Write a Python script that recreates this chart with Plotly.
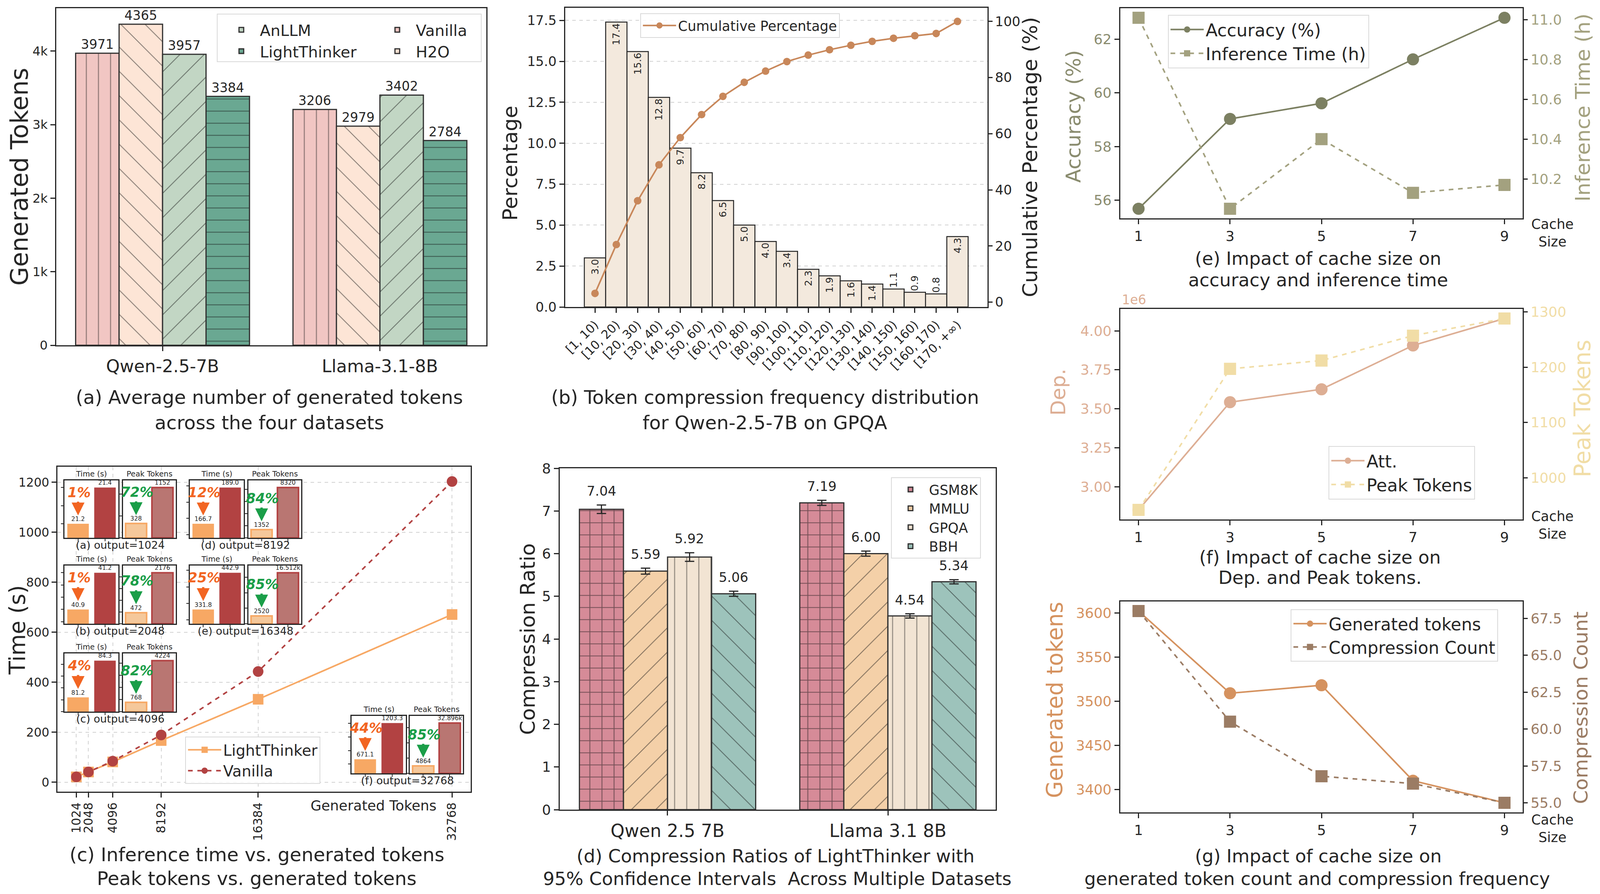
import plotly.graph_objects as go

# positions below are measured in reference pixels (4309 x 2289);
# the browser viewport is narrower (4096 px), so x positions are rescaled
W, H = 4309, 2289
VIEW_W = 4096
KX = VIEW_W / W
FIG_W, FIG_H = VIEW_W - 16, H - 16
FONT = "DejaVu Sans"
INK = "#262626"
GRID = "#D2D2D2"

# ---------------- data ----------------
# (a) average generated tokens
models_a = ["Qwen-2.5-7B", "Llama-3.1-8B"]
tokens_vanilla = [3971, 3206]
tokens_h2o = [4365, 2979]
tokens_anllm = [3957, 3402]
tokens_lightthinker = [3384, 2784]

# (b) token compression frequency on GPQA
bins_b = ["[1, 10)", "[10, 20)", "[20, 30)", "[30, 40)", "[40, 50)", "[50, 60)",
          "[60, 70)", "[70, 80)", "[80, 90)", "[90, 100)", "[100, 110)", "[110, 120)",
          "[120, 130)", "[130, 140)", "[140, 150)", "[150, 160)", "[160, 170)", "[170, +∞)"]
freq_pct_b = [3.0, 17.4, 15.6, 12.8, 9.7, 8.2, 6.5, 5.0, 4.0, 3.4, 2.3, 1.9, 1.6, 1.4, 1.1, 0.9, 0.8, 4.3]
cum_pct_b = [3.1, 20.5, 36.1, 48.9, 58.6, 66.8, 73.3, 78.3, 82.3, 85.7, 88.0, 89.9, 91.5, 92.9,
             94.0, 94.9, 95.7, 100.0]

# (c) inference time / peak tokens vs generated tokens
output_tokens_c = [1024, 2048, 4096, 8192, 16384, 32768]
time_lightthinker_c = [21.2, 40.9, 81.2, 166.7, 331.8, 671.1]
time_vanilla_c = [21.4, 41.2, 84.3, 189.0, 442.9, 1203.3]
peak_lightthinker_c = [328, 472, 768, 1352, 2520, 4864]
peak_vanilla_c = [1152, 2176, 4224, 8320, 16512, 32896]
inset_tags_c = ["(a)", "(b)", "(c)", "(d)", "(e)", "(f)"]
inset_outputs_c = [1024, 2048, 4096, 8192, 16348, 32768]
methods_c = ["LightThinker", "Vanilla"]

# (d) compression ratios with 95% CI
models_d = ["Qwen 2.5 7B", "Llama 3.1 8B"]
ratio_gsm8k = [7.04, 7.19]
ratio_mmlu = [5.59, 6.00]
ratio_gpqa = [5.92, 4.54]
ratio_bbh = [5.06, 5.34]
ci_gsm8k = [0.10, 0.06]
ci_mmlu = [0.07, 0.06]
ci_gpqa = [0.10, 0.05]
ci_bbh = [0.06, 0.05]

# (e)(f)(g) cache size ablation
cache_size = [1, 3, 5, 7, 9]
accuracy_e = [55.68, 59.03, 59.61, 61.25, 62.80]
inference_hours_e = [11.01, 10.05, 10.40, 10.13, 10.17]
att_dep_f = [2.851e6, 3.542e6, 3.625e6, 3.906e6, 4.079e6]
peak_tokens_f = [942, 1197, 1212, 1257, 1288]
generated_tokens_g = [3602, 3509, 3518, 3410, 3385]
compression_count_g = [68.0, 60.5, 56.8, 56.3, 55.0]


# ---------------- helpers ----------------
def z(v):
    return v * 0.97


def fx(x):
    return (x * KX - 8) / FIG_W


def fy(y):
    return 1 - (y - 8) / FIG_H


def xd(x0, x1):
    return [fx(x0), fx(x1)]


def yd(y0, y1):
    return [fy(y1), fy(y0)]


def autoscale(values, from_zero=False):
    lo = 0 if from_zero else min(values)
    hi = max(values)
    m = 0.05 * (hi - lo)
    return [lo if from_zero else lo - m, hi + m]


def cat_range(n, group=0.8):
    m = 0.05 * (n - 1 + group)
    return [-group / 2 - m, n - 1 + group / 2 + m]


def tick_style(size, color):
    return dict(ticks="outside", ticklen=12, tickwidth=2.5, tickcolor=INK,
                showgrid=False, zeroline=False, automargin=False,
                tickfont=dict(family=FONT, size=z(size), color=color))


def framed(size=36, color=INK, **kw):
    d = dict(showline=True, linecolor=INK, linewidth=3, mirror=True)
    d.update(tick_style(size, color))
    d.update(kw)
    return d


def twin(over, anchor, size=36, color=INK, **kw):
    d = dict(overlaying=over, anchor=anchor, side="right", showline=False)
    d.update(tick_style(size, color))
    d.update(kw)
    return d


def dashed_grid():
    return dict(showgrid=True, gridcolor=GRID, gridwidth=2, griddash="dash")


def hatch(shape, size, line_px=2.2):
    # solidity chosen so hatch lines come out about line_px wide
    if shape == "+":
        sol = 1 - (1 - line_px / size) ** 2
    else:
        sol = line_px / size
    return dict(shape=shape, size=size, solidity=sol, fgcolor="#111111")


notes = []


def text_at(text, x, y, size=48, color=INK, angle=0, **kw):
    d = dict(text=text, x=fx(x), y=fy(y), xref="paper", yref="paper",
             showarrow=False, textangle=angle,
             font=dict(family=FONT, size=z(size), color=color),
             xanchor="center", yanchor="middle")
    d.update(kw)
    notes.append(d)


def legend_at(x, y, size, **kw):
    d = dict(x=fx(x), y=fy(y), xanchor="left", yanchor="top",
             bgcolor="rgba(255,255,255,0.85)", bordercolor="#D9D9D9", borderwidth=2,
             font=dict(family=FONT, size=z(size), color=INK), itemwidth=85,
             tracegroupgap=0)
    d.update(kw)
    return d


fig = go.Figure()
lay = {}
shapes = []

# ---------------- (a) ----------------
bars_a = [
    ("Vanilla", tokens_vanilla, "#F1C6C3", "|", 31, "legend2"),
    ("H2O", tokens_h2o, "#FDE5D6", "\\", 44, "legend2"),
    ("AnLLM", tokens_anllm, "#C2D6C4", "/", 44, "legend"),
    ("LightThinker", tokens_lightthinker, "#6AA892", "-", 31, "legend"),
]
for name, vals, color, shape, size, leg in bars_a:
    fig.add_trace(go.Bar(
        x=models_a, y=vals, name=name, legend=leg, xaxis="x", yaxis="y",
        marker=dict(color=color, line=dict(color="#303030", width=3),
                    pattern=hatch(shape, size)),
        text=[str(v) for v in vals], textposition="outside", constraintext="none",
        textfont=dict(family=FONT, size=z(34), color=INK), cliponaxis=False))

lay["xaxis"] = framed(46, domain=xd(151, 1310), anchor="y", type="category",
                      range=cat_range(len(models_a)))
lay["yaxis"] = framed(33, domain=yd(21, 884), anchor="x",
                      range=autoscale(tokens_h2o + tokens_vanilla, True),
                      dtick=1000, tickformat="~s")
shapes.append(dict(type="rect", xref="paper", yref="paper", x0=fx(585), x1=fx(1296),
                   y0=fy(158), y1=fy(36), line=dict(color="#D9D9D9", width=2),
                   fillcolor="rgba(255,255,255,0.85)", layer="above"))
text_at("Generated Tokens", 52, 452, 64, angle=-90)
text_at("(a) Average number of generated tokens", 725, 1017, 50)
text_at("across the four datasets", 725, 1082, 50)

# ---------------- (b) ----------------
fig.add_trace(go.Bar(
    x=bins_b, y=freq_pct_b, width=1, showlegend=False, xaxis="x2", yaxis="y2",
    marker=dict(color="#F3E9DD", line=dict(color=INK, width=2.5)),
    text=[f"{v:.1f}" for v in freq_pct_b], textangle=-90,
    textposition=["inside" if v >= 1.2 else "outside" for v in freq_pct_b],
    insidetextanchor="end", constraintext="none", cliponaxis=False,
    textfont=dict(family=FONT, size=z(26), color=INK)))
fig.add_trace(go.Scatter(
    x=bins_b, y=cum_pct_b, name="Cumulative Percentage", legend="legend3",
    xaxis="x2", yaxis="y3", mode="lines+markers",
    line=dict(color="#C8875A", width=4), marker=dict(size=z(20), color="#C8875A")))

lay["xaxis2"] = framed(32, domain=xd(1522, 2659), anchor="y2", type="category",
                       range=cat_range(len(bins_b), 1.0), tickangle=-45)
lay["yaxis2"] = framed(35, domain=yd(20, 786), anchor="x2",
                       range=autoscale(freq_pct_b, True), dtick=2.5, tickformat=".1f",
                       **dashed_grid())
lay["yaxis3"] = twin("y2", "x2", 35, range=autoscale(cum_pct_b), dtick=20)
text_at("Percentage", 1373, 418, 54, angle=-90)
text_at("Cumulative Percentage (%)", 2774, 402, 54, angle=-90)
text_at("(b) Token compression frequency distribution", 2060, 1017, 50)
text_at("for Qwen-2.5-7B on GPQA", 2060, 1082, 50)

# ---------------- (c) ----------------
fig.add_trace(go.Scatter(
    x=output_tokens_c, y=time_lightthinker_c, name="LightThinker", legend="legend4",
    xaxis="x3", yaxis="y4", mode="lines+markers",
    line=dict(color="#F7A864", width=4),
    marker=dict(symbol="square", size=z(28), color="#F7A864")))
fig.add_trace(go.Scatter(
    x=output_tokens_c, y=time_vanilla_c, name="Vanilla", legend="legend4",
    xaxis="x3", yaxis="y4", mode="lines+markers",
    line=dict(color="#B24242", width=4, dash="dash"),
    marker=dict(symbol="circle", size=z(28), color="#B24242")))

lay["xaxis3"] = framed(32, domain=xd(155, 1268), anchor="y4",
                       range=autoscale(output_tokens_c), tickvals=output_tokens_c,
                       ticktext=[str(v) for v in output_tokens_c], tickangle=-90,
                       **dashed_grid())
lay["yaxis4"] = framed(32, domain=yd(1195, 2027), anchor="x3",
                       range=autoscale(time_lightthinker_c + time_vanilla_c), dtick=200,
                       **dashed_grid())
text_at("Time (s)", 46, 1613, 58, angle=-90)
text_at("Generated Tokens", 1006, 2062, 37)
text_at("(c) Inference time vs. generated tokens", 692, 2188, 50)
text_at("Peak tokens vs. generated tokens", 692, 2249, 50)

# insets of (c)
inset_cols_px = [(174, 319, 331, 473), (511, 656, 669, 811), (947, 1093, 1104, 1247)]
inset_rows_px = [(1230, 1377), (1448, 1597), (1673, 1822), (1833, 1980)]
inset_slot = [(0, 0), (0, 1), (0, 2), (1, 0), (1, 1), (2, 3)]
LOW, HIGH = 0.245, 0.876
ORANGE_TXT, GREEN_TXT = "#F26522", "#1A9E48"

for k in range(6):
    c, r = inset_slot[k]
    tx0, tx1, px0, px1 = inset_cols_px[c]
    y0, y1 = inset_rows_px[r]
    lt_t, va_t = time_lightthinker_c[k], time_vanilla_c[k]
    lt_p, va_p = peak_lightthinker_c[k], peak_vanilla_c[k]
    span = (va_t - lt_t) / (HIGH - LOW)
    t_lo = lt_t - LOW * span
    panels = [
        (8 + 2 * k, 12 + 2 * k, tx0, tx1, [t_lo, t_lo + span], [lt_t, va_t],
         ["#F7A864", "#B24242"], ["#F7A864", "#B24242"], 0, "%{y:.1f}",
         "Time (s)", ORANGE_TXT, LOW),
        (9 + 2 * k, 13 + 2 * k, px0, px1, [0, va_p / HIGH], [lt_p, va_p],
         ["#F5C89B", "#B97672"], ["#F7A864", "#B24242"], 4, "%{y}",
         "Peak Tokens", GREEN_TXT, lt_p / va_p * HIGH),
    ]
    for xn, yn, x0, x1, rng, vals, fills, edges, ew, fmt, title, pcol, lt_frac in panels:
        small = dict(showline=True, mirror=True, linecolor=INK, linewidth=3,
                     ticks="outside", ticklen=6, tickwidth=2, tickcolor=INK,
                     showticklabels=False, showgrid=False, zeroline=False,
                     automargin=False)
        lay[f"xaxis{xn}"] = dict(domain=xd(x0, x1), anchor=f"y{yn}", type="category",
                                 range=[-0.5, 1.5], **small)
        lay[f"yaxis{yn}"] = dict(domain=yd(y0, y1), anchor=f"x{xn}", range=rng,
                                 nticks=6, **small)
        fig.add_trace(go.Bar(
            x=methods_c, y=vals, showlegend=False, xaxis=f"x{xn}", yaxis=f"y{yn}",
            marker=dict(color=fills, line=dict(color=edges, width=ew)),
            texttemplate=fmt, textposition="outside", constraintext="none",
            textfont=dict(family=FONT, size=z(16), color=INK), cliponaxis=False))
        lo, hi = rng
        head = lt_frac + 0.145
        tail = head + 0.25
        label_y = tail + 0.15
        pct = round(100 * (1 - vals[0] / vals[1]))
        notes.append(dict(text=f"{pct}%", x=0.04, y=lo + label_y * (hi - lo),
                          xref=f"x{xn}", yref=f"y{yn}", showarrow=False,
                          xanchor="center", yanchor="middle",
                          font=dict(family=FONT, size=z(36), color=pcol,
                                    weight="bold", style="italic")))
        notes.append(dict(text="", x=0, y=lo + head * (hi - lo), ax=0,
                          ay=lo + tail * (hi - lo), xref=f"x{xn}", yref=f"y{yn}",
                          axref=f"x{xn}", ayref=f"y{yn}", showarrow=True,
                          arrowhead=2, arrowsize=1.1, arrowwidth=6, arrowcolor=pcol))
        text_at(title, (x0 + x1) / 2, y0 - 3, 20, yanchor="bottom")
    text_at(f"{inset_tags_c[k]} output={inset_outputs_c[k]}", (tx0 + px1) / 2, y1 + 1, 28,
            yanchor="top")

# ---------------- (d) ----------------
bars_d = [
    ("GSM8K", ratio_gsm8k, ci_gsm8k, "#D68B98", "+", 31),
    ("MMLU", ratio_mmlu, ci_mmlu, "#F4D0A8", "/", 44),
    ("GPQA", ratio_gpqa, ci_gpqa, "#F2E4D3", "|", 31),
    ("BBH", ratio_bbh, ci_bbh, "#9DC3BB", "\\", 44),
]
for i, (name, vals, errs, color, shape, size) in enumerate(bars_d):
    fig.add_trace(go.Bar(
        x=models_d, y=vals, name=name, legend="legend5", xaxis="x4", yaxis="y5",
        marker=dict(color=color, line=dict(color="#303030", width=3),
                    pattern=hatch(shape, size)),
        error_y=dict(type="data", array=errs, color=INK, thickness=3, width=12)))
    for j, (v, e) in enumerate(zip(vals, errs)):
        notes.append(dict(text=f"{v:.2f}", x=j + (i - 1.5) * 0.2, y=v + e,
                          xref="x4", yref="y5", showarrow=False, yanchor="bottom",
                          yshift=14, font=dict(family=FONT, size=z(35), color=INK)))

lay["xaxis4"] = framed(47, domain=xd(1507, 2682), anchor="y5", type="category",
                       range=cat_range(len(models_d)))
lay["yaxis5"] = framed(37, domain=yd(1199, 2073), anchor="x4", range=[0, 8], dtick=1)
text_at("Compression Ratio", 1420, 1636, 54, angle=-90)
text_at("(d) Compression Ratios of LightThinker with", 2089, 2192, 48)
text_at("95% Confidence Intervals\u00a0 Across Multiple Datasets", 2094, 2250, 48)

# ---------------- (e)(f)(g) ----------------
cache_panels = [
    # xaxis id, left y id, right y id, box rows, cache label row, left, right, legend
    (5, 6, 7, (21, 559), 596, ("Accuracy (%)", accuracy_e, "#7C8062", "#8A8C6F"),
     ("Inference Time (h)", inference_hours_e, "#A3A17F", "#A3A17F"), "legend6"),
    (6, 8, 9, (791, 1330), 1344, ("Att.", att_dep_f, "#DDAE94", "#DDAE94"),
     ("Peak Tokens", peak_tokens_f, "#F1DDA6", "#F1DDA6"), "legend7"),
    (7, 10, 11, (1540, 2080), 2121,
     ("Generated tokens", generated_tokens_g, "#D5925F", "#D5925F"),
     ("Compression Count", compression_count_g, "#9B7C64", "#9B7C64"), "legend8"),
]
for xn, yl, yr, (b0, b1), cache_y, left, right, leg in cache_panels:
    lname, lvals, lcol, ltxt = left
    rname, rvals, rcol, rtxt = right
    fig.add_trace(go.Scatter(
        x=cache_size, y=lvals, name=lname, legend=leg, xaxis=f"x{xn}", yaxis=f"y{yl}",
        mode="lines+markers", line=dict(color=lcol, width=4),
        marker=dict(symbol="circle", size=z(32), color=lcol)))
    fig.add_trace(go.Scatter(
        x=cache_size, y=rvals, name=rname, legend=leg, xaxis=f"x{xn}", yaxis=f"y{yr}",
        mode="lines+markers", line=dict(color=rcol, width=4, dash="dash"),
        marker=dict(symbol="square", size=z(32), color=rcol)))
    lay[f"xaxis{xn}"] = framed(37, domain=xd(3017, 4101), anchor=f"y{yl}",
                               range=autoscale(cache_size), tickvals=cache_size)
    lay[f"yaxis{yl}"] = framed(37, ltxt, domain=yd(b0, b1), anchor=f"x{xn}",
                               range=autoscale(lvals))
    lay[f"yaxis{yr}"] = twin(f"y{yl}", f"x{xn}", 37, rtxt, range=autoscale(rvals))
    text_at("Cache<br>Size", 4181, cache_y, 36)

lay["yaxis6"].update(dtick=2)
lay["yaxis7"].update(dtick=0.2, tick0=0, tickformat=".1f")
dep_ticks = [3.0e6 + 0.25e6 * i for i in range(5)]
lay["yaxis8"].update(tickvals=dep_ticks, ticktext=[f"{v / 1e6:.2f}" for v in dep_ticks])
lay["yaxis9"].update(dtick=100)
lay["yaxis10"].update(dtick=50)
lay["yaxis11"].update(dtick=2.5, tick0=0, tickformat=".1f")

text_at("Accuracy (%)", 2891, 298, 53, "#8A8C6F", -90)
text_at("Inference Time (h)", 4262, 275, 54, "#A3A17F", -90)
text_at("(e) Impact of cache size on", 3550, 662, 48)
text_at("accuracy and inference time", 3550, 717, 48)

text_at("1e6", 3054, 767, 34, "#DDAE94")
text_at("Dep.", 2850, 1004, 53, "#DDAE94", -90)
text_at("Peak Tokens", 4262, 1046, 60, "#F1DDA6", -90)
text_at("(f) Impact of cache size on", 3555, 1427, 48)
text_at("Dep. and Peak tokens.", 3555, 1479, 48)

text_at("Generated tokens", 2840, 1792, 58, "#D5925F", -90)
text_at("Compression Count", 4256, 1812, 52, "#9B7C64", -90)
text_at("(g) Impact of cache size on", 3550, 2192, 48)
text_at("generated token count and compression frequency", 3547, 2250, 48)

# ---------------- layout ----------------
fig.update_layout(
    width=FIG_W, height=FIG_H, autosize=False,
    margin=dict(l=0, r=0, t=0, b=0),
    paper_bgcolor="white", plot_bgcolor="white",
    font=dict(family=FONT, color=INK),
    barmode="group", bargap=0.2, bargroupgap=0,
    annotations=notes, shapes=shapes,
    legend=legend_at(600, 44, 41, bgcolor="rgba(0,0,0,0)", borderwidth=0),
    legend2=legend_at(1020, 44, 41, bgcolor="rgba(0,0,0,0)", borderwidth=0),
    legend3=legend_at(1724, 34, 36),
    legend4=legend_at(499, 1886, 40),
    legend5=legend_at(2400, 1222, 36),
    legend6=legend_at(3145, 38, 46),
    legend7=legend_at(3578, 1142, 46),
    legend8=legend_at(3476, 1560, 45),
    **lay,
)

fig.write_html("out.html")
